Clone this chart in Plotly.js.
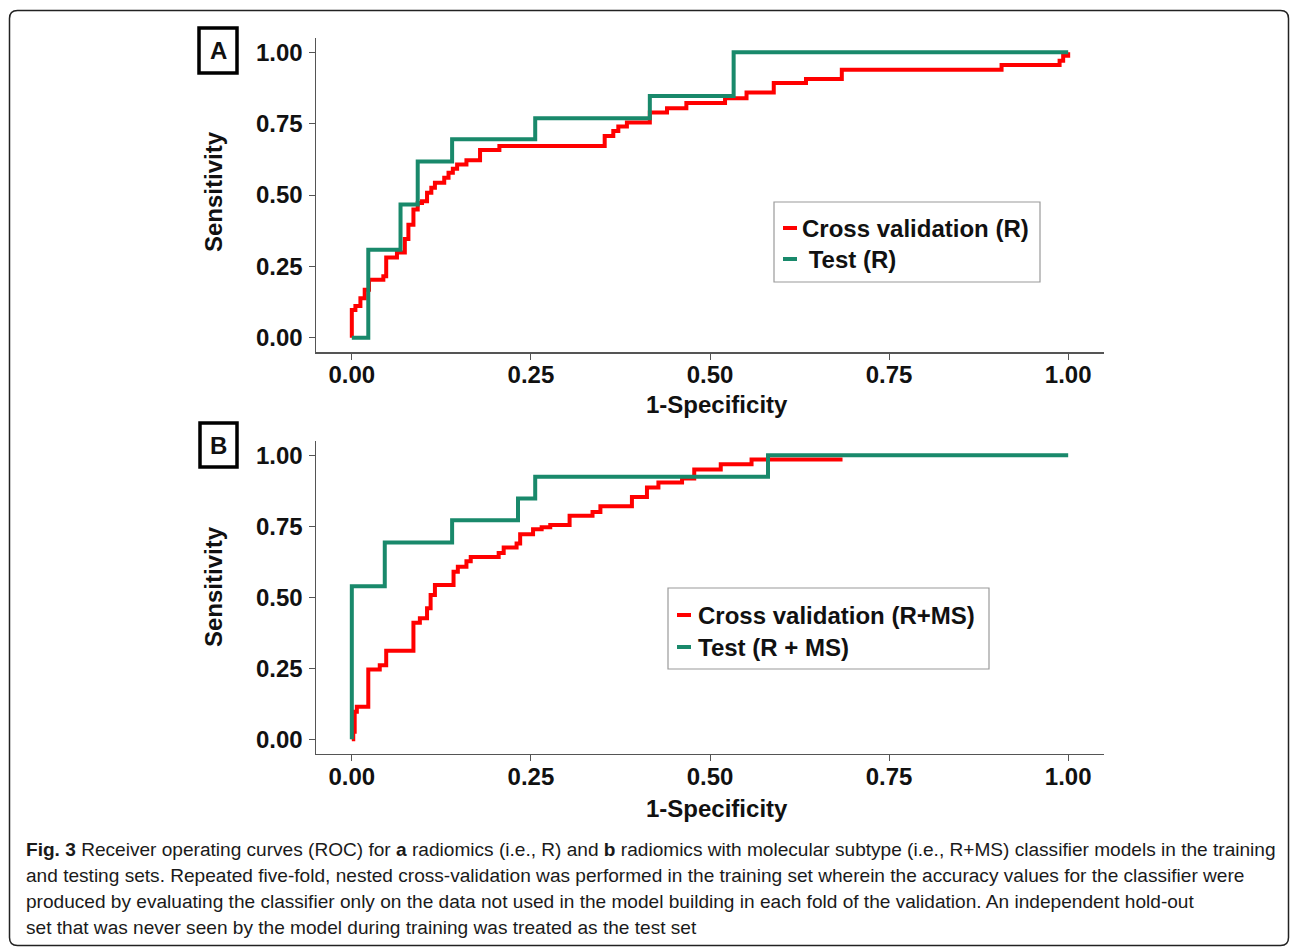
<!DOCTYPE html>
<html>
<head>
<meta charset="utf-8">
<script src="https://cdn.plot.ly/plotly-3.0.1.min.js"></script>
<style>
  html, body { margin: 0; padding: 0; background: #fff; }
  #chart { width: 1290px; height: 947px; }
</style>
</head>
<body>
<div id="chart"></div>
<script>
// ---------- DATA ----------
const tickVals = [0, 0.25, 0.5, 0.75, 1];
const tickText = ['0.00', '0.25', '0.50', '0.75', '1.00'];

const panelLabels = ['A', 'B'];
const xTitle = '1-Specificity';
const yTitle = 'Sensitivity';

const seriesNamesA = ['Cross validation (R)', ' Test (R)'];
const seriesNamesB = ['Cross validation (R+MS)', 'Test (R + MS)'];

// Panel A - cross validation (R)
const cvA_fpr = [0, 0, 0.005, 0.012, 0.018, 0.024, 0.044, 0.048, 0.063, 0.074, 0.079, 0.086, 0.092, 0.098, 0.105, 0.111, 0.116, 0.129, 0.135, 0.141, 0.147, 0.160, 0.179, 0.206, 0.353, 0.365, 0.372, 0.384, 0.416, 0.440, 0.467, 0.521, 0.551, 0.589, 0.634, 0.684, 0.907, 0.988, 0.993, 1.0];
const cvA_tpr = [0, 0.097, 0.111, 0.138, 0.168, 0.203, 0.215, 0.281, 0.299, 0.346, 0.396, 0.449, 0.472, 0.478, 0.508, 0.525, 0.543, 0.560, 0.578, 0.592, 0.607, 0.622, 0.658, 0.672, 0.707, 0.724, 0.740, 0.754, 0.789, 0.804, 0.822, 0.839, 0.859, 0.892, 0.906, 0.939, 0.955, 0.970, 0.988, 1.0];
// Panel A - test (R)
const testA_fpr = [0, 0.023, 0.068, 0.092, 0.140, 0.256, 0.416, 0.533, 1.0];
const testA_tpr = [0, 0.308, 0.467, 0.617, 0.695, 0.769, 0.847, 1.0, 1.0];

// Panel B - cross validation (R+MS)
const cvB_fpr = [0, 0.002, 0.004, 0.007, 0.023, 0.039, 0.048, 0.086, 0.095, 0.105, 0.110, 0.116, 0.142, 0.148, 0.160, 0.166, 0.205, 0.212, 0.230, 0.235, 0.253, 0.265, 0.277, 0.304, 0.336, 0.347, 0.391, 0.412, 0.428, 0.461, 0.478, 0.515, 0.558, 0.685];
const cvB_tpr = [0, 0.027, 0.097, 0.115, 0.246, 0.261, 0.312, 0.410, 0.426, 0.461, 0.508, 0.543, 0.590, 0.607, 0.627, 0.642, 0.656, 0.675, 0.689, 0.722, 0.739, 0.746, 0.754, 0.787, 0.800, 0.820, 0.853, 0.886, 0.904, 0.918, 0.950, 0.968, 0.985, 0.985];
// Panel B - test (R + MS)
const testB_fpr = [0, 0, 0.046, 0.140, 0.232, 0.256, 0.581, 1.0];
const testB_tpr = [0, 0.539, 0.693, 0.771, 0.848, 0.924, 1.0, 1.0];

const captionLines = [
  '<b>Fig. 3</b> Receiver operating curves (ROC) for <b>a</b> radiomics (i.e., R) and <b>b</b> radiomics with molecular subtype (i.e., R+MS) classifier models in the training',
  'and testing sets. Repeated five-fold, nested cross-validation was performed in the training set wherein the accuracy values for the classifier were',
  'produced by evaluating the classifier only on the data not used in the model building in each fold of the validation. An independent hold-out',
  'set that was never seen by the model during training was treated as the test set'
];

// ---------- STYLE ----------
const W = 1290, H = 947;
const RED = '#ff0000', GREEN = '#19896b';
const px = x => x / W;
const py = y => 1 - y / H;
const FAM = 'Liberation Sans, Arial, sans-serif';
const BOLD = {family: FAM, size: 24, color: '#111', weight: 'bold'};

// caption font size: fit the first caption line to the reference width (~1253 px)
function captionSize() {
  const ctx = document.createElement('canvas').getContext('2d');
  const base = 20;
  let w = 0;
  captionLines[0].split(/(<b>.*?<\/b>)/).forEach(seg => {
    if (!seg) return;
    const bold = seg.startsWith('<b>');
    ctx.font = (bold ? 'bold ' : '') + base + 'px "Liberation Sans", Arial, sans-serif';
    w += ctx.measureText(seg.replace(/<\/?b>/g, '')).width;
  });
  const s = base * 1250 / w;
  return Math.max(14, Math.min(22, s));
}
const CAP_SIZE = captionSize();

const traces = [
  {x: cvA_fpr, y: cvA_tpr, name: seriesNamesA[0], xaxis: 'x', yaxis: 'y', mode: 'lines', line: {shape: 'hv', color: RED, width: 4}},
  {x: testA_fpr, y: testA_tpr, name: seriesNamesA[1], xaxis: 'x', yaxis: 'y', mode: 'lines', line: {shape: 'hv', color: GREEN, width: 4}},
  {x: cvB_fpr, y: cvB_tpr, name: seriesNamesB[0], xaxis: 'x2', yaxis: 'y2', mode: 'lines', line: {shape: 'hv', color: RED, width: 4}},
  {x: testB_fpr, y: testB_tpr, name: seriesNamesB[1], xaxis: 'x2', yaxis: 'y2', mode: 'lines', line: {shape: 'hv', color: GREEN, width: 4}}
];

function axisX(domain, anchor) {
  return {
    domain: domain, anchor: anchor, range: [-0.05, 1.05],
    tickvals: tickVals, ticktext: tickText, tickfont: BOLD, ticklabelstandoff: -5,
    showline: true, linecolor: '#555', linewidth: 1.5, ticks: 'outside', ticklen: 6, tickcolor: '#555', tickwidth: 1,
    showgrid: false, zeroline: false, fixedrange: true
  };
}
function axisY(domain, anchor) {
  return {
    domain: domain, anchor: anchor, range: [-0.05, 1.05],
    tickvals: tickVals, ticktext: tickText, tickfont: BOLD, ticklabelstandoff: 1,
    showline: true, linecolor: '#555', linewidth: 1.5, ticks: 'outside', ticklen: 6, tickcolor: '#555', tickwidth: 1,
    showgrid: false, zeroline: false, fixedrange: true
  };
}

const panels = [
  {top: 38, bottom: 352, xTitleY: 404, yTitleY: 192, names: seriesNamesA, label: panelLabels[0], labelBox: [199, 28, 237, 73],
   legend: {box: [774, 202, 1040, 282], rows: [228, 259], sample: [783, 797], textX: [800, 800]}},
  {top: 441, bottom: 753.5, xTitleY: 808, yTitleY: 587, names: seriesNamesB, label: panelLabels[1], labelBox: [200, 423, 237, 467],
   legend: {box: [668, 588, 989, 669], rows: [615, 647], sample: [677, 691], textX: [696, 696]}}
];
const plotL = 316, plotR = 1104;

const layout = {
  width: W, height: H,
  margin: {l: 0, r: 0, t: 0, b: 0},
  paper_bgcolor: '#fff', plot_bgcolor: '#fff',
  showlegend: false,
  xaxis: axisX([px(plotL), px(plotR)], 'y'),
  yaxis: axisY([py(panels[0].bottom), py(panels[0].top)], 'x'),
  xaxis2: axisX([px(plotL), px(plotR)], 'y2'),
  yaxis2: axisY([py(panels[1].bottom), py(panels[1].top)], 'x2'),
  shapes: [],
  annotations: []
};

// outer rounded frame
(function () {
  const l = 9.5, t = 10.5, r = 1288.5, b = 945.5, rad = 8;
  const path = `M ${px(l)},${py(b - rad)} L ${px(l)},${py(t + rad)} Q ${px(l)},${py(t)} ${px(l + rad)},${py(t)} ` +
               `L ${px(r - rad)},${py(t)} Q ${px(r)},${py(t)} ${px(r)},${py(t + rad)} L ${px(r)},${py(b - rad)} ` +
               `Q ${px(r)},${py(b)} ${px(r - rad)},${py(b)} L ${px(l + rad)},${py(b)} Q ${px(l)},${py(b)} ${px(l)},${py(b - rad)}`;
  layout.shapes.push({type: 'path', xref: 'paper', yref: 'paper', path: path, line: {color: '#222', width: 1.5}});
})();

panels.forEach((p, i) => {
  // panel label box
  const lb = p.labelBox;
  layout.shapes.push({type: 'rect', xref: 'paper', yref: 'paper', x0: px(lb[0]), x1: px(lb[2]), y0: py(lb[3]), y1: py(lb[1]),
    line: {color: '#000', width: 3.5}});
  layout.annotations.push({xref: 'paper', yref: 'paper', x: px((lb[0] + lb[2]) / 2), y: py((lb[1] + lb[3]) / 2),
    text: p.label, showarrow: false, xanchor: 'center', yanchor: 'middle', font: BOLD});
  // axis titles
  layout.annotations.push({xref: 'paper', yref: 'paper', x: px(717), y: py(p.xTitleY), text: xTitle,
    showarrow: false, xanchor: 'center', yanchor: 'middle', font: BOLD});
  layout.annotations.push({xref: 'paper', yref: 'paper', x: px(213), y: py(p.yTitleY), text: yTitle, textangle: -90,
    showarrow: false, xanchor: 'center', yanchor: 'middle', font: BOLD});
  // legend
  const lg = p.legend;
  layout.shapes.push({type: 'rect', xref: 'paper', yref: 'paper', x0: px(lg.box[0]), x1: px(lg.box[2]), y0: py(lg.box[3]), y1: py(lg.box[1]),
    line: {color: '#9a9a9a', width: 1.2}, fillcolor: 'rgba(255,255,255,0)'});
  [RED, GREEN].forEach((c, k) => {
    layout.shapes.push({type: 'line', xref: 'paper', yref: 'paper', x0: px(lg.sample[0]), x1: px(lg.sample[1]),
      y0: py(lg.rows[k]), y1: py(lg.rows[k]), line: {color: c, width: 4}});
    layout.annotations.push({xref: 'paper', yref: 'paper', x: px(lg.textX[k]), y: py(lg.rows[k]), text: p.names[k].replace(/ /g, '&nbsp;'),
      showarrow: false, xanchor: 'left', yanchor: 'middle', font: BOLD});
  });
});

// caption
captionLines.forEach((line, i) => {
  layout.annotations.push({xref: 'paper', yref: 'paper', x: px(24), y: py(849 + i * 26), text: line,
    showarrow: false, xanchor: 'left', yanchor: 'middle', align: 'left',
    font: {family: FAM, size: CAP_SIZE, color: '#1a1a1a'}});
});

Plotly.newPlot('chart', traces, layout, {displayModeBar: false, staticPlot: true});
</script>
</body>
</html>
